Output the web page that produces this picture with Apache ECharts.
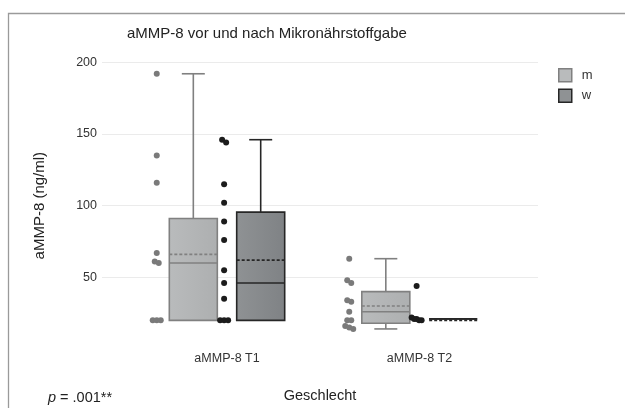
<!DOCTYPE html>
<html>
<head>
<meta charset="utf-8">
<script src="https://cdn.jsdelivr.net/npm/echarts@6/dist/echarts.min.js"></script>
<style>html,body{margin:0;padding:0;background:#fff;}#c{width:625px;height:408px;}</style>
</head>
<body>
<div id="c"></div>
<script>
const categories = ['aMMP-8 T1', 'aMMP-8 T2'];
const yTicks = [50, 100, 150, 200];
// [whiskerLow, q1, median, q3, whiskerHigh, mean] per category
const boxM = [[20, 20, 60, 91, 192, 66], [14, 18, 26, 40, 63, 30]];
const boxW = [[20, 20, 46, 95.5, 146, 62], [21, 21, 21, 21, 21, 21]];
// individual observations
const ptsM_T1 = [192, 135, 116, 67, 61, 60, 20, 20, 20];
const ptsW_T1 = [146, 144, 115, 102, 89, 76, 55, 46, 35, 20, 20, 20];
const ptsM_T2 = [63, 48, 46, 34, 33, 26, 20, 20, 16, 15, 14];
const ptsW_T2 = [44, 22, 21, 21, 20, 20];

const FONT = '"Liberation Sans", Arial, Helvetica, sans-serif';
const BOX_OFF = 0.175;
const DOT_GAP = 0.19;

const styleM = { fillA: '#b9bbbc', fillB: '#adafb0', stroke: '#808080', dot: '#7a7a7a' };
const styleW = { fillA: '#8f9294', fillB: '#7f8285', stroke: '#262626', dot: '#1c1c1c' };

function boxSeries(name, data, offset, st) {
  return {
    type: 'custom', name: name,
    data: data.map((d, i) => [i + 1].concat(d)),
    encode: { x: 0, y: [1, 2, 3, 4, 5, 6] },
    itemStyle: { color: st.fillA, borderColor: st.stroke },
    z: 3,
    renderItem: function (params, api) {
      const x = api.value(0) + offset;
      const p = k => api.coord([x, api.value(k)]);
      const lo = p(1), q1 = p(2), md = p(3), q3 = p(4), hi = p(5), mn = p(6);
      const cx = lo[0], hw = 24, cap = 11.5;
      const ls = { stroke: st.stroke, lineWidth: 1.6 };
      const ch = [];
      if (hi[1] < q3[1] - 0.5) {
        ch.push({ type: 'line', shape: { x1: cx, y1: q3[1], x2: cx, y2: hi[1] }, style: ls });
        ch.push({ type: 'line', shape: { x1: cx - cap, y1: hi[1], x2: cx + cap, y2: hi[1] }, style: ls });
      }
      if (lo[1] > q1[1] + 0.5) {
        ch.push({ type: 'line', shape: { x1: cx, y1: q1[1], x2: cx, y2: lo[1] }, style: ls });
        ch.push({ type: 'line', shape: { x1: cx - cap, y1: lo[1], x2: cx + cap, y2: lo[1] }, style: ls });
      }
      const flat = q1[1] - q3[1] < 1;
      ch.push({
        type: 'rect',
        shape: { x: cx - hw, y: q3[1], width: 2 * hw, height: q1[1] - q3[1] },
        style: {
          fill: new echarts.graphic.LinearGradient(0, 0, 1, 0, [{ offset: 0, color: st.fillA }, { offset: 1, color: st.fillB }]),
          stroke: st.stroke, lineWidth: 1.6
        }
      });
      ch.push({ type: 'line', shape: { x1: cx - hw, y1: md[1], x2: cx + hw, y2: md[1] }, style: { stroke: st.stroke, lineWidth: 1.6 } });
      ch.push({ type: 'line', shape: { x1: cx - hw, y1: mn[1] + (flat ? 1.5 : 0), x2: cx + hw, y2: mn[1] + (flat ? 1.5 : 0) },
        style: { stroke: st.stroke, lineWidth: 1.6, lineDash: [3, 2] } });
      return { type: 'group', children: ch };
    }
  };
}

function dotData(vals, cat, offset) {
  const sorted = vals.map((v, i) => ({ v, i })).sort((a, b) => b.v - a.v);
  const clusters = [];
  sorted.forEach(o => {
    const last = clusters[clusters.length - 1];
    if (last && last[last.length - 1].v - o.v <= 3) last.push(o); else clusters.push([o]);
  });
  const out = [];
  clusters.forEach(cl => {
    const step = cl.length > 3 ? 2.5 : 4;
    cl.forEach((o, k) => {
      const dx = (k - (cl.length - 1) / 2) * step;
      out.push({ value: [cat + offset - DOT_GAP, o.v], symbolOffset: [dx, 0] });
    });
  });
  return out;
}

function dotSeries(name, data, color) {
  return {
    type: 'scatter', name: name, data: data, symbol: 'circle', symbolSize: 6,
    itemStyle: { color: color, opacity: 1 }, z: 4, silent: true
  };
}

const chart = echarts.init(document.getElementById('c'), null, { renderer: 'canvas' });
chart.setOption({
  animation: false,
  backgroundColor: '#ffffff',
  title: {
    text: 'aMMP-8 vor und nach Mikronährstoffgabe',
    left: 127, top: 26, padding: 0,
    textStyle: { fontFamily: FONT, fontSize: 15, fontWeight: 'normal', color: '#222' }
  },
  legend: {
    orient: 'vertical', left: 558, top: 68, padding: 0,
    itemWidth: 13, itemHeight: 13, itemGap: 6, icon: 'rect',
    textStyle: { fontFamily: FONT, fontSize: 13, color: '#333', padding: [0, 0, 0, 5] },
    data: [
      { name: 'm', itemStyle: { color: styleM.fillA, borderColor: styleM.stroke, borderWidth: 1.5 } },
      { name: 'w', itemStyle: { color: styleW.fillA, borderColor: styleW.stroke, borderWidth: 1.5 } }
    ]
  },
  grid: { left: 102, right: 87, top: 62.3, bottom: 55.4 },
  xAxis: {
    type: 'value', min: 0.3506, max: 2.6156,
    name: 'Geschlecht', nameLocation: 'middle', nameGap: 39,
    nameTextStyle: { fontFamily: FONT, fontSize: 14.5, color: '#222' },
    axisLine: { show: false }, axisTick: { show: false }, splitLine: { show: false },
    axisLabel: {
      customValues: [1, 2], margin: 3,
      formatter: v => categories[Math.round(v) - 1] || '',
      fontFamily: FONT, fontSize: 12.5, color: '#333'
    }
  },
  yAxis: {
    type: 'value', min: 0, max: 200, interval: 50,
    name: 'aMMP-8 (ng/ml)', nameLocation: 'middle', nameGap: 55,
    nameTextStyle: { fontFamily: FONT, fontSize: 15, color: '#222' },
    axisLine: { show: false }, axisTick: { show: false },
    axisLabel: {
      showMinLabel: false, margin: 5,
      formatter: v => (yTicks.indexOf(v) >= 0 ? String(v) : ''),
      fontFamily: FONT, fontSize: 12.5, color: '#333'
    },
    splitLine: { show: true, showMinLine: false, lineStyle: { color: '#ebebeb', width: 1 } }
  },
  graphic: [
    { type: 'rect', left: 6, top: 11, z: -1, silent: true,
      shape: { width: 660, height: 440 }, style: { fill: 'none', stroke: '#9a9a9a', lineWidth: 1.3 } },
    { type: 'text', left: 48, top: 390,
      style: { text: '{i|p} = .001**', fontFamily: FONT, fontSize: 14.5, fill: '#222',
        rich: { i: { fontStyle: 'italic', fontFamily: FONT, fontSize: 14.5, fill: '#222' } } } }
  ],
  series: [
    boxSeries('m', boxM, -BOX_OFF, styleM),
    boxSeries('w', boxW, BOX_OFF, styleW),
    dotSeries('m', dotData(ptsM_T1, 1, -BOX_OFF), styleM.dot),
    dotSeries('w', dotData(ptsW_T1, 1, BOX_OFF), styleW.dot),
    dotSeries('m', dotData(ptsM_T2, 2, -BOX_OFF), styleM.dot),
    dotSeries('w', dotData(ptsW_T2, 2, BOX_OFF), styleW.dot)
  ]
});
</script>
</body>
</html>
